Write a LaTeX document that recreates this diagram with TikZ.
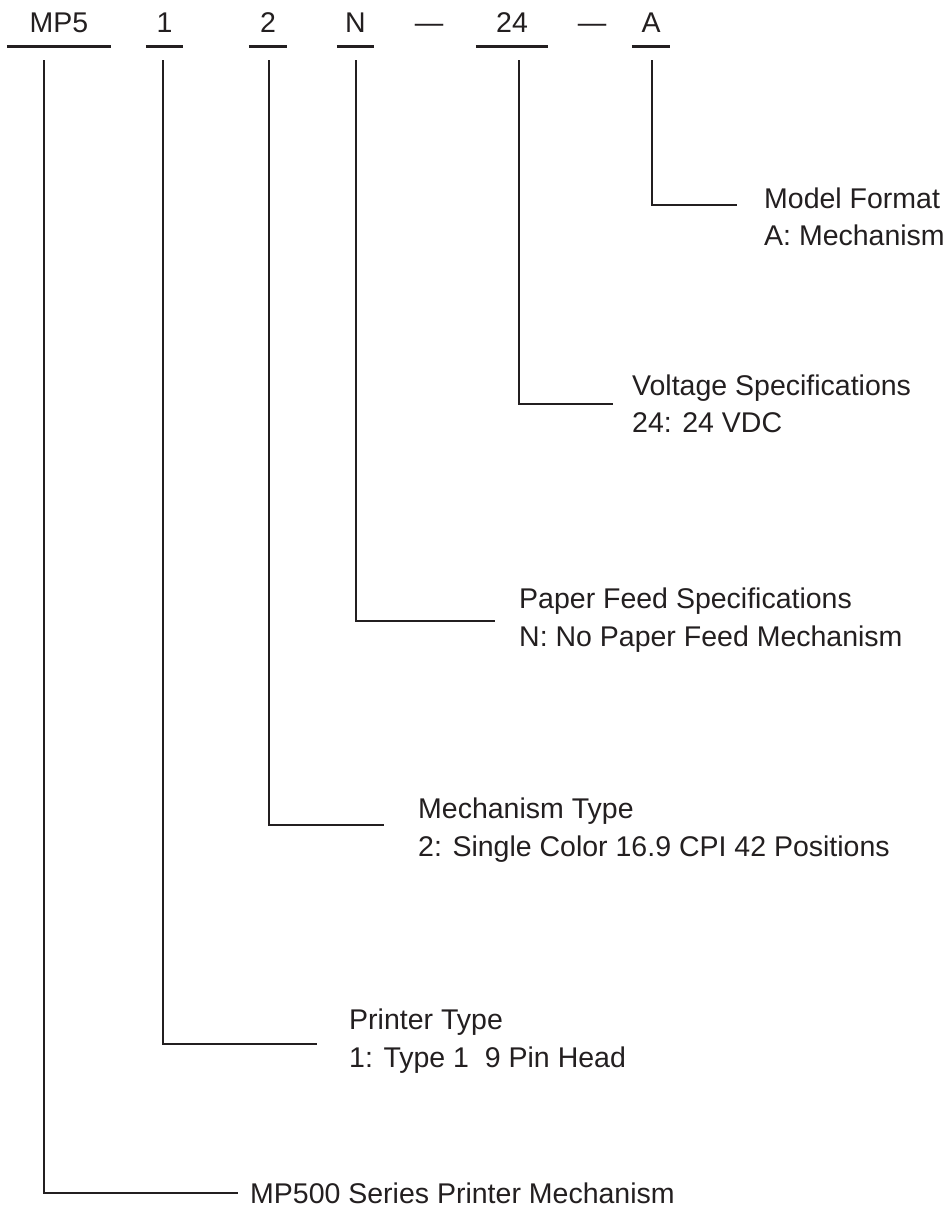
\documentclass[tikz,border=0pt]{standalone}
\usepackage{fontspec}
\setmainfont{Liberation Sans}
\definecolor{ink}{RGB}{35,31,32}
\begin{document}
\begin{tikzpicture}[x=1pt,y=-1pt,
  font=\fontsize{28.5}{37.5}\selectfont,
  code/.style={anchor=base, inner xsep=0pt, inner ysep=14pt, text=ink},
  dashmark/.style={anchor=base, inner sep=0pt, text=ink},
  lbl/.style={anchor=base west, align=left, inner sep=0pt, text=ink},
  wire/.style={draw=ink, line width=2.7pt}]
\useasboundingbox[fill=white] (0,0) rectangle (951,1210);
% code row
\node[code, minimum width=104pt] (mp5) at (59,32) {MP5};
\node[code, minimum width=37pt] (c1) at (164.5,32) {1};
\node[code, minimum width=38pt] (c2) at (268,32) {2};
\node[code, minimum width=37pt] (cN) at (355.5,32) {N};
\node[dashmark] (d1) at (429,32) {—};
\node[code, minimum width=72pt] (c24) at (512,32) {24};
\node[dashmark] (d2) at (592,32) {—};
\node[code, minimum width=38pt] (cA) at (651,32) {A};
\foreach \n in {mp5,c1,c2,cN,c24,cA}{
  \draw[wire] (\n.south west) -- (\n.south east);
}
% labels (base anchor = baseline of the last line)
\node[lbl] (lA) at (764,245.5) {Model Format\\A: Mechanism};
\node[lbl] (l24) at (632,432.5) {Voltage Specifications\\24: 24 VDC};
\node[lbl] (lN) at (519,646) {Paper Feed Specifications\\N: No Paper Feed Mechanism};
\node[lbl] (l2) at (418,856) {Mechanism Type\\2: Single Color 16.9 CPI 42 Positions};
\node[lbl] (l1) at (349,1067) {Printer Type\\1: Type 1\ \ 9 Pin Head};
\node[lbl] (l0) at (250,1203) {MP500 Series Printer Mechanism};
% corners and line ends
\coordinate (kA) at (652,205);  \coordinate (eA) at (737,205);
\coordinate (k24) at (519,404); \coordinate (e24) at (613,404);
\coordinate (kN) at (356,621);  \coordinate (eN) at (495,621);
\coordinate (k2) at (269,825);  \coordinate (e2) at (384,825);
\coordinate (k1) at (163,1044); \coordinate (e1) at (317,1044);
\coordinate (k0) at (44,1193);  \coordinate (e0) at (238,1193);
% connectors
\draw[wire] (cA.south -| kA) ++(0,14) -- (kA) -- (eA);
\draw[wire] (c24.south -| k24) ++(0,14) -- (k24) -- (e24);
\draw[wire] (cN.south -| kN) ++(0,14) -- (kN) -- (eN);
\draw[wire] (c2.south -| k2) ++(0,14) -- (k2) -- (e2);
\draw[wire] (c1.south -| k1) ++(0,14) -- (k1) -- (e1);
\draw[wire] (mp5.south -| k0) ++(0,14) -- (k0) -- (e0);
\end{tikzpicture}
\end{document}
